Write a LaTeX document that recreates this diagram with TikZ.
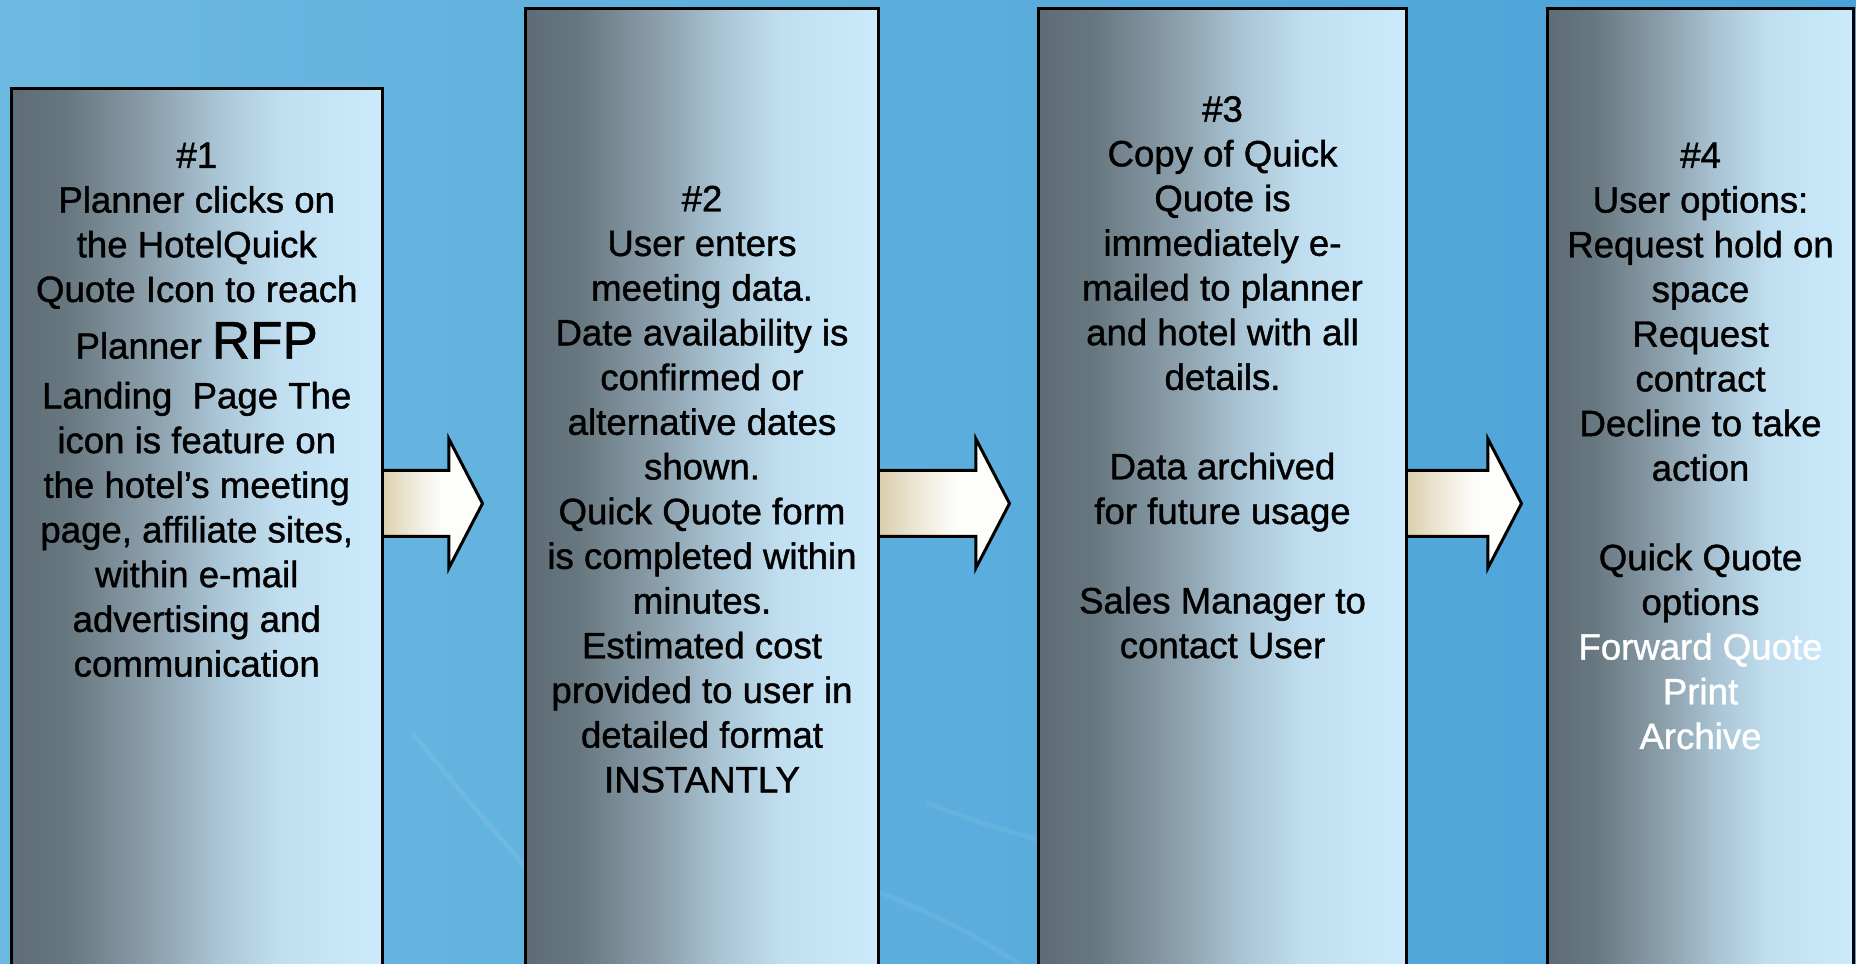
\documentclass[tikz,border=0pt]{standalone}
\usepackage{fontspec}
\setmainfont{Liberation Sans}[FakeBold=1.1]
\usetikzlibrary{positioning,shapes.arrows}

\definecolor{bgleft}{HTML}{6CB9E1}
\definecolor{bgright}{HTML}{4AA2D8}
\definecolor{boxA}{HTML}{5D6C76}
\definecolor{boxB}{HTML}{67777F}
\definecolor{boxC}{HTML}{8FA3B0}
\definecolor{boxD}{HTML}{A9C4D4}
\definecolor{boxE}{HTML}{C0DEEF}
\definecolor{boxF}{HTML}{CBEBFD}
\definecolor{arrA}{HTML}{D3C79E}
\definecolor{arrB}{HTML}{ECE6D4}
\definecolor{arrC}{HTML}{FDFDFA}

\pgfdeclarehorizontalshading{stepshade}{100bp}{color(0bp)=(boxA); color(25bp)=(boxA);
  color(32.5bp)=(boxB); color(45bp)=(boxC); color(52.5bp)=(boxD); color(61bp)=(boxE);
  color(75bp)=(boxF); color(100bp)=(boxF)}
\pgfdeclarehorizontalshading{arrowshade}{100bp}{color(0bp)=(arrA); color(25bp)=(arrA);
  color(42bp)=(arrB); color(56bp)=(arrC); color(100bp)=(arrC)}

\tikzset{
  stepbox/.style={draw=black, line width=1.5pt, shade, shading=stepshade,
    minimum height=520pt, anchor=north west, inner sep=0pt},
  steptext/.style={font=\fontsize{18.3}{22.35}\selectfont, align=center, inner sep=0pt},
  flowarrow/.style={single arrow, draw=black, line width=1.5pt, shade, shading=arrowshade,
    inner xsep=0pt, inner ysep=15.75pt, single arrow head extend=15.75pt,
    single arrow tip angle=125, minimum width=0pt, anchor=tail},
  streak/.style={white, line width=2.5pt, opacity=0.07, line cap=round}
}

\begin{document}
\begin{tikzpicture}[x=1pt, y=1pt]
    \useasboundingbox (0,0) rectangle (928,481.5);
    \clip (0,0) rectangle (928,481.5);
    \shade[left color=bgleft, right color=bgright] (0,0) rectangle (928,481.5);

    % faint streaks in the background
    \draw[streak] (207,114) .. controls (235,80) .. (262,49);
    \draw[streak] (441,35) .. controls (480,18) .. (509,0);
    \draw[streak] (464,80) .. controls (490,70) .. (518,62);

    % block arrows (behind the boxes)
    \node (a1) [flowarrow, minimum height=55.5pt] at (185,229.75) {};
    \node (a2) [flowarrow, minimum height=71pt] at (433,229.75) {};
    \node (a3) [flowarrow, minimum height=63pt] at (697,229.75) {};

    % the four steps
    \node (s1) [stepbox, minimum width=185.75pt] at (4.75,437.75) {};
    \node (s2) [stepbox, minimum width=176.5pt] at (262,477.75) {};
    \node (s3) [stepbox, minimum width=184pt] at (518.5,477.75) {};
    \node (s4) [stepbox, minimum width=153pt] at (773,477.75) {};

    \node (t1) [steptext, below=27.4pt of s1.north] {\#1\\
        Planner clicks on\\
        the HotelQuick\\
        Quote Icon to reach\\[6pt]
        Planner {\fontsize{26.5}{30}\selectfont RFP}\\[2.5pt]
        Landing~\ Page The\\
        icon is feature on\\
        the hotel’s meeting\\
        page, affiliate sites,\\
        within e-mail\\
        advertising and\\
        communication};
    \node (t2) [steptext, below=88.9pt of s2.north] {\#2\\
        User enters\\
        meeting data.\\
        Date availability is\\
        confirmed or\\
        alternative dates\\
        shown.\\
        Quick Quote form\\
        is completed within\\
        minutes.\\
        Estimated cost\\
        provided to user in\\
        detailed format\\
        INSTANTLY};
    \node (t3) [steptext, below=44.1pt of s3.north] {\#3\\
        Copy of Quick\\
        Quote is\\
        immediately e-\\
        mailed to planner\\
        and hotel with all\\
        details.\\
        ~\\
        Data archived\\
        for future usage\\
        ~\\
        Sales Manager to\\
        contact User};
    \node (t4) [steptext, below=67.4pt of s4.north] {\#4\\
        User options:\\
        Request hold on\\
        space\\
        Request\\
        contract\\
        Decline to take\\
        action\\
        ~\\
        Quick Quote\\
        options\\
        \textcolor{white}{Forward Quote}\\
        \textcolor{white}{Print}\\
        \textcolor{white}{Archive}};
\end{tikzpicture}
\end{document}
